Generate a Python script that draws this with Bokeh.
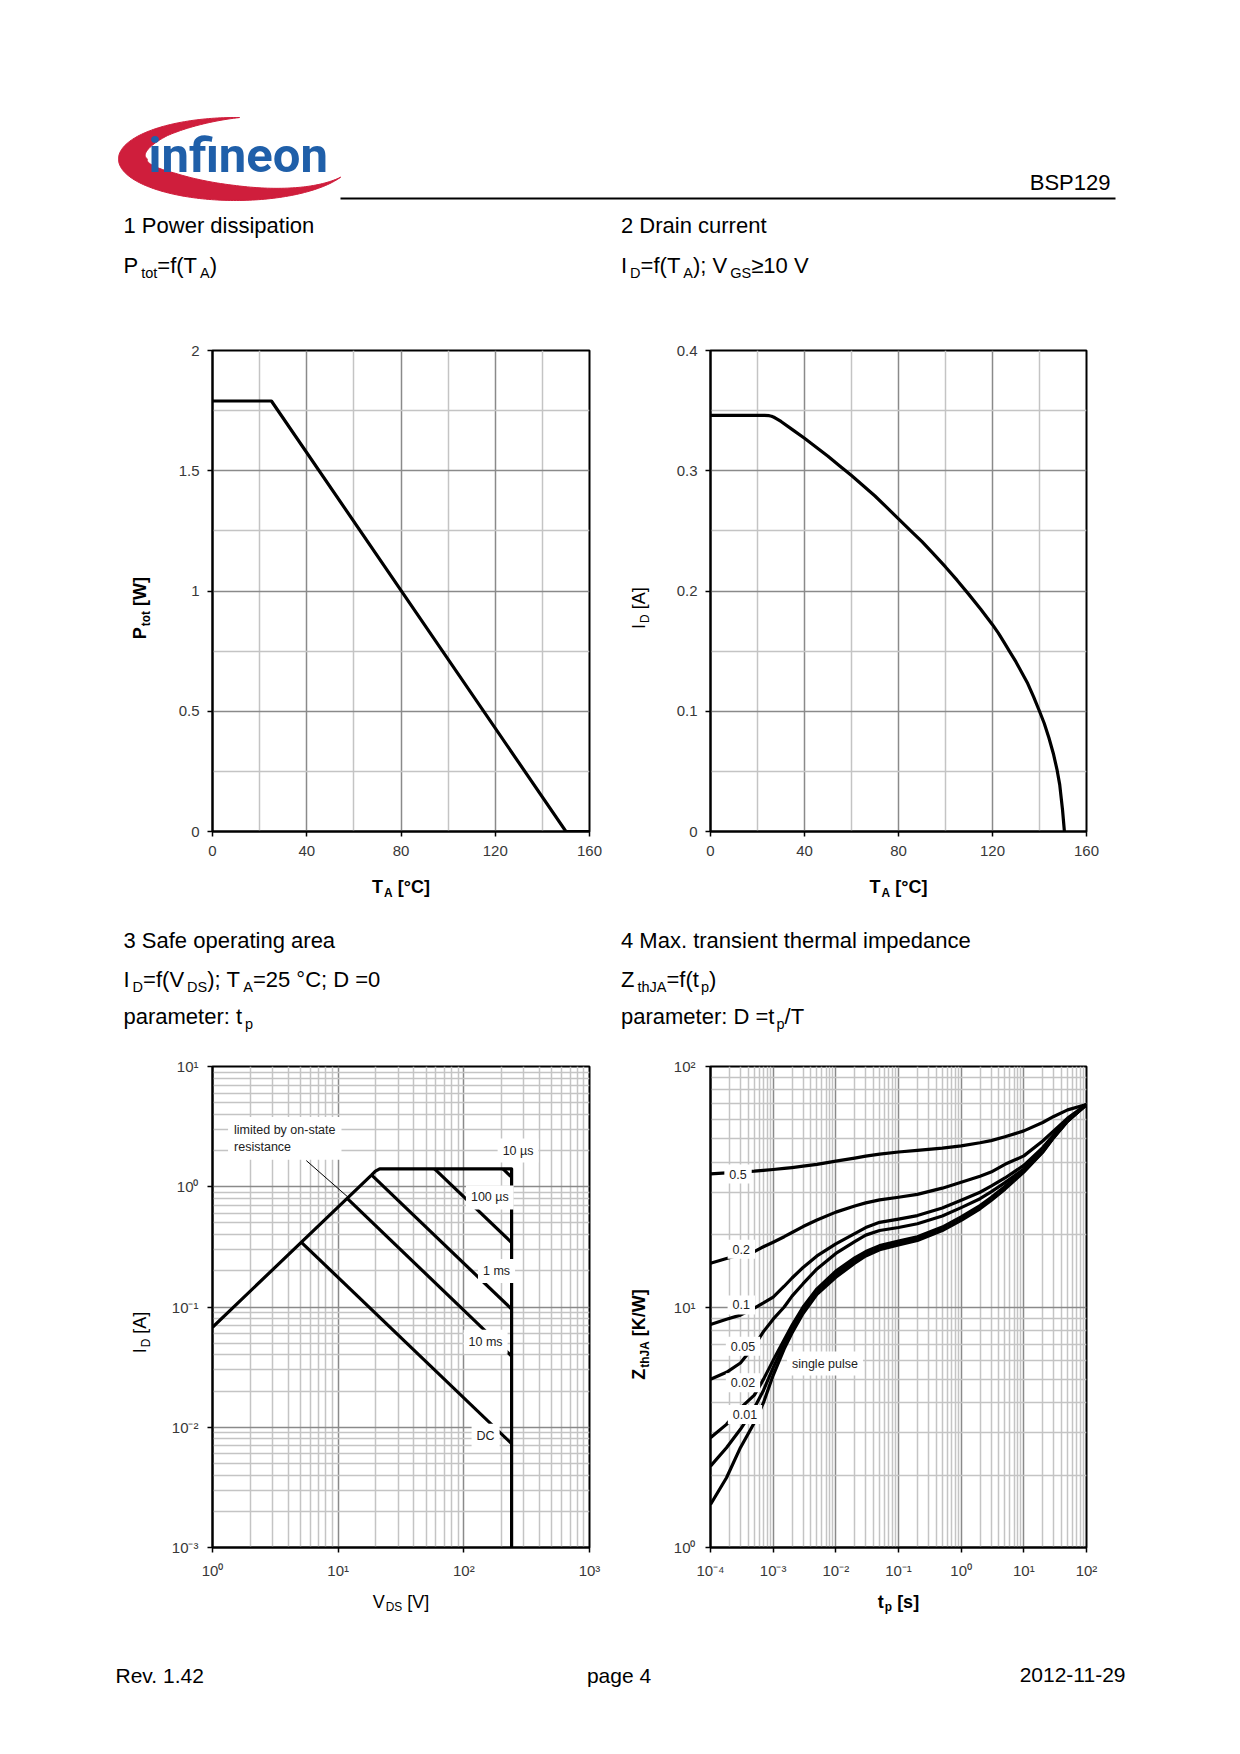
import math
import numpy as np
from bokeh.plotting import figure
from bokeh.models import Range1d, Label, FixedTicker, CustomJSTickFormatter
from bokeh.layouts import column, row
from bokeh.embed import file_html
from bokeh.resources import INLINE

FONT = "Liberation Sans"
LOGO_FONT = "Roboto"
DARK = "#8a8a8a"
LIGHT = "#c4c4c4"
TICKCOL = "#383838"
BASE_CORR = 0.355   # Label 'alphabetic' baseline correction (fraction of font size)

# ------------------------------------------------------------------ data
# 1 Power dissipation
pd_temp = [0, 25, 150, 160]
pd_ptot = [1.79, 1.79, 0.0, 0.0]
pd_xticks = [0, 40, 80, 120, 160]
pd_yticks = [0, 0.5, 1, 1.5, 2]

# 2 Drain current
dc_temp = [0, 23, 25, 26, 27, 28, 30, 35, 40, 45, 50, 55, 60, 65, 70, 75, 80, 85, 90, 95,
           100, 105, 110, 115, 120, 122.5, 125, 127.5, 130, 132.5, 135, 137.5, 140,
           142, 144, 146, 147.5, 148.6, 149.8, 150.6]
dc_id = [0.346, 0.346, 0.3458, 0.3453, 0.3445, 0.3434, 0.341, 0.334, 0.327, 0.3195,
         0.312, 0.304, 0.296, 0.2875, 0.279, 0.2695, 0.260, 0.2505, 0.241, 0.2307,
         0.220, 0.2088, 0.197, 0.1848, 0.172, 0.165, 0.157, 0.149, 0.141, 0.132,
         0.123, 0.112, 0.100, 0.090, 0.078, 0.064, 0.051, 0.039, 0.018, 0.0]
dc_xticks = [0, 40, 80, 120, 160]
dc_yticks = [0, 0.1, 0.2, 0.3, 0.4]

# 3 Safe operating area
soa_limit_v = [1, 18.4, 19.8, 21.4, 240, 240]
soa_limit_i = [0.0678, 1.25, 1.35, 1.41, 1.41, 0.001]
soa_10us_v = [205, 240]
soa_10us_i = [1.41, 1.2]
soa_100us_v = [58.5, 240]
soa_100us_i = [1.41, 0.343]
soa_1ms_v = [18.5, 240]
soa_1ms_i = [1.25, 0.096]
soa_10ms_v = [11.8, 240]
soa_10ms_i = [0.80, 0.039]
soa_dc_v = [5.1, 240]
soa_dc_i = [0.345, 0.0073]
soa_leader_v = [5.58, 12.0]
soa_leader_i = [1.65, 0.818]
soa_labels = ["10 µs", "100 µs", "1 ms", "10 ms", "DC"]
soa_label_v = [270, 161, 182, 149, 149]
soa_label_i = [2.0, 0.815, 0.199, 0.0514, 0.0085]
soa_xticks = [1, 10, 100, 1000]
soa_yticks = [0.001, 0.01, 0.1, 1, 10]

# 4 Max. transient thermal impedance
zth_t = [1e-4, 1.8e-4, 3e-4, 5e-4, 7e-4, 1e-3, 1.5e-3, 2e-3, 3e-3, 5e-3, 1e-2,
         2e-2, 3e-2, 5e-2, 1e-1, 2e-1, 5e-1, 1, 2, 3, 5, 10, 20, 30, 50, 100]
zth_d05 = [35.8, 36.1, 36.4, 36.7, 37.0, 37.3, 37.7, 38.0, 38.5, 39.2, 40.4, 41.6,
           42.4, 43.2, 44.1, 44.8, 45.8, 46.8, 48.2, 49.2, 51.0, 54.0, 58.5, 62.0, 66.0, 69.5]
zth_d02 = [15.2, 15.9, 16.5, 17.0, 17.8, 18.6, 19.6, 20.4, 21.6, 23.0, 24.8, 26.3,
           27.1, 27.9, 28.6, 29.4, 31.2, 33.0, 35.0, 36.4, 39.2, 42.5, 49.0, 54.0, 61.0, 69.5]
zth_d01 = [8.45, 8.9, 9.25, 9.9, 10.4, 11.0, 12.2, 13.2, 14.6, 16.3, 18.3, 20.2,
           21.4, 22.5, 23.2, 24.0, 25.8, 27.8, 30.0, 31.8, 34.4, 38.8, 46.0, 52.0, 60.0, 69.5]
zth_d005 = [5.0, 5.35, 5.85, 6.9, 7.9, 8.9, 10.0, 11.1, 12.5, 14.4, 16.7, 18.7,
            19.9, 20.8, 21.4, 22.2, 23.9, 25.9, 28.2, 30.1, 32.9, 37.5, 45.0, 51.5, 60.0, 69.5]
zth_d002 = [2.86, 3.25, 3.8, 4.3, 5.0, 6.0, 7.3, 8.4, 10.0, 11.9, 14.1, 16.0,
            17.0, 18.0, 18.8, 19.6, 21.5, 23.7, 26.4, 28.5, 31.7, 37.0, 44.5, 51.0, 59.5, 69.5]
zth_d001 = [2.18, 2.6, 3.1, 3.8, 4.5, 5.6, 7.0, 8.1, 9.7, 11.6, 13.7, 15.6,
            16.7, 17.7, 18.5, 19.3, 21.2, 23.3, 26.0, 28.1, 31.3, 36.7, 44.2, 50.8, 59.3, 69.5]
zth_single = [1.51, 1.95, 2.6, 3.3, 4.0, 5.2, 6.7, 7.8, 9.4, 11.3, 13.3, 15.2,
              16.3, 17.3, 18.1, 18.9, 20.8, 22.9, 25.6, 27.7, 30.9, 36.4, 44.0, 50.6, 59.2, 69.5]
zth_labels = ["0.5", "0.2", "0.1", "0.05", "0.02", "0.01", "single pulse"]
zth_label_t = [2.75e-4, 3.1e-4, 3.1e-4, 3.3e-4, 3.3e-4, 3.55e-4, 6.7e-3]
zth_label_z = [35.7, 17.4, 10.2, 6.87, 4.84, 3.57, 5.82]
zth_xticks = [1e-4, 1e-3, 1e-2, 1e-1, 1, 10, 100]
zth_yticks = [1, 10, 100]

# ------------------------------------------------------------------ text metrics (Arial/Helvetica)
HR = {' ': 278, '!': 278, '(': 333, ')': 333, ',': 278, '-': 333, '.': 278, '/': 278,
      ':': 278, ';': 278, '=': 584, '≥': 549, '°': 400, 'µ': 556, '[': 278, ']': 278,
      'A': 667, 'B': 667, 'C': 722, 'D': 722, 'E': 667, 'F': 611, 'G': 778, 'H': 722,
      'I': 278, 'J': 500, 'K': 667, 'L': 556, 'M': 833, 'N': 722, 'O': 778, 'P': 667,
      'Q': 778, 'R': 722, 'S': 667, 'T': 611, 'U': 722, 'V': 667, 'W': 944, 'X': 667,
      'Y': 667, 'Z': 611, 'a': 556, 'b': 556, 'c': 500, 'd': 556, 'e': 556, 'f': 278,
      'g': 556, 'h': 556, 'i': 222, 'j': 222, 'k': 500, 'l': 222, 'm': 833, 'n': 556,
      'o': 556, 'p': 556, 'q': 556, 'r': 333, 's': 500, 't': 278, 'u': 556, 'v': 500,
      'w': 722, 'x': 500, 'y': 500, 'z': 500}
for _d in "0123456789":
    HR[_d] = 556
HB = dict(HR)
HB.update({'[': 333, ']': 333, 'A': 722, 'J': 556, 'K': 722, 'b': 611, 'c': 556, 'd': 611,
           'f': 333, 'g': 611, 'h': 611, 'i': 278, 'j': 278, 'k': 556, 'l': 278, 'n': 611,
           'o': 611, 'p': 611, 'q': 611, 'r': 389, 's': 556, 't': 333, 'u': 611, 'v': 556,
           'w': 778, 'x': 556, 'y': 556, ':': 333, ';': 333})


def tw(s, size, bold=False):
    tab = HB if bold else HR
    return sum(tab.get(c, 556) for c in s) * size / 1000.0


def rich(p, x, y, segs, size, bold=False, align="left", vertical=False,
         color="black", font=FONT):
    parts = []
    total = 0.0
    for txt, kind in segs:
        if kind == "g":
            parts.append((None, kind, 0, float(txt)))
            total += float(txt)
            continue
        s = size if kind == "n" else size * 0.66
        w = tw(txt, s, bold)
        parts.append((txt, kind, s, w))
        total += w
    pos = {"left": 0.0, "center": -total / 2.0, "right": -total}[align]
    for txt, kind, s, w in parts:
        if txt is None:
            pos += w
            continue
        lead = len(txt) - len(txt.lstrip(" "))
        shift = tw(" " * lead, s, bold)
        t = txt.strip(" ")
        off = 0.0 if kind == "n" else (0.2 * size if kind == "b" else -0.4 * size)
        off -= BASE_CORR * s
        if vertical:
            X, Y, ang = x + off, y - (pos + shift), math.pi / 2
        else:
            X, Y, ang = x + pos + shift, y + off, 0.0
        p.add_layout(Label(x=X, y=Y, text=t, angle=ang, text_font=font,
                           text_font_size="%.1fpx" % s,
                           text_font_style="bold" if bold else "normal",
                           text_color=color, text_align="left",
                           text_baseline="alphabetic"))
        pos += w


def text_fig(x0, x1, y0, y1):
    f = figure(x_range=Range1d(x0, x1), y_range=Range1d(y1, y0),
               frame_width=x1 - x0, frame_height=y1 - y0, min_border=0,
               x_axis_location=None, y_axis_location=None,
               toolbar_location=None, output_backend="svg")
    f.outline_line_color = None
    f.grid.visible = False
    f.background_fill_color = "white"
    f.border_fill_color = "white"
    return f


LIN_FMT = "return String(parseFloat(tick.toFixed(3)));"
LOG_FMT = r"""
const sup = {"-":"\u207b","0":"\u2070","1":"\u00b9","2":"\u00b2","3":"\u00b3",
             "4":"\u2074","5":"\u2075","6":"\u2076","7":"\u2077","8":"\u2078","9":"\u2079"};
const e = Math.round(Math.log10(tick));
return "10" + String(e).split("").map(c => sup[c]).join("");
"""

FRAME_H = 481


def make_chart(x0, x1, y0, y1, fx0, fy0, fw, xr, yr, xtype="linear", ytype="linear"):
    bl, bt = fx0 - x0, fy0 - y0
    p = figure(x_range=xr, y_range=yr, x_axis_type=xtype, y_axis_type=ytype,
               frame_width=fw, frame_height=FRAME_H,
               min_border_left=bl, min_border_top=bt,
               min_border_right=(x1 - x0) - bl - fw,
               min_border_bottom=(y1 - y0) - bt - FRAME_H,
               toolbar_location=None, output_backend="svg")
    p.outline_line_color = "black"
    p.outline_line_width = 2
    p.background_fill_color = "white"
    p.border_fill_color = "white"
    for ax in (p.xaxis[0], p.yaxis[0]):
        ax.axis_line_color = "black"
        ax.axis_line_width = 2
        ax.major_tick_line_color = "black"
        ax.major_tick_line_width = 1.5
        ax.major_tick_out = 5
        ax.major_tick_in = 0
        ax.minor_tick_line_color = None
        ax.major_label_text_font = FONT
        ax.major_label_text_color = TICKCOL
    return p


def style_grid(p, xmaj, xmin, ymaj, ymin):
    p.xgrid.ticker = FixedTicker(ticks=xmaj, minor_ticks=xmin)
    p.ygrid.ticker = FixedTicker(ticks=ymaj, minor_ticks=ymin)
    for g in (p.xgrid[0], p.ygrid[0]):
        g.grid_line_color = DARK
        g.grid_line_width = 1.5
        g.minor_grid_line_color = LIGHT
        g.minor_grid_line_width = 1.5


def tag(p, x, y, text, align="center", baseline="middle", pad=4):
    p.add_layout(Label(x=x, y=y, text=text, text_font=FONT, text_font_size="12.5px",
                       text_color="#222222", text_align=align, text_baseline=baseline,
                       background_fill_color="white", padding=pad))


# ------------------------------------------------------------------ page strips
A = text_fig(0, 1232, 0, 335)
L1 = text_fig(0, 166, 335, 870)
L2 = text_fig(615, 664, 335, 870)
B = text_fig(0, 1232, 870, 1040)
L3 = text_fig(0, 166, 1040, 1585)
L4 = text_fig(615, 664, 1040, 1585)
C = text_fig(0, 1232, 1585, 1720)

# ------------------------------------------------------------------ chart 1
f1 = make_chart(166, 615, 335, 870, 212, 350, 377, Range1d(0, 160), Range1d(0, 2))
f1.xaxis.ticker = FixedTicker(ticks=pd_xticks)
f1.yaxis.ticker = FixedTicker(ticks=pd_yticks)
for ax in (f1.xaxis[0], f1.yaxis[0]):
    ax.formatter = CustomJSTickFormatter(code=LIN_FMT)
    ax.major_label_text_font_size = "15px"
f1.xaxis.major_label_standoff = 9
f1.yaxis.major_label_standoff = 8
style_grid(f1, [40, 80, 120], [20, 60, 100, 140], [0.5, 1, 1.5], [0.25, 0.75, 1.25, 1.75])
f1.line(pd_temp, pd_ptot, line_width=3.2, color="black", line_join="round")

# ------------------------------------------------------------------ chart 2
f2 = make_chart(664, 1232, 335, 870, 710, 350, 376, Range1d(0, 160), Range1d(0, 0.4))
f2.xaxis.ticker = FixedTicker(ticks=dc_xticks)
f2.yaxis.ticker = FixedTicker(ticks=dc_yticks)
for ax in (f2.xaxis[0], f2.yaxis[0]):
    ax.formatter = CustomJSTickFormatter(code=LIN_FMT)
    ax.major_label_text_font_size = "15px"
f2.xaxis.major_label_standoff = 9
f2.yaxis.major_label_standoff = 8
style_grid(f2, [40, 80, 120], [20, 60, 100, 140], [0.1, 0.2, 0.3], [0.05, 0.15, 0.25, 0.35])
f2.line(dc_temp, dc_id, line_width=3.2, color="black", line_join="round")

# ------------------------------------------------------------------ chart 3
f3 = make_chart(166, 615, 1040, 1585, 212, 1066, 377, Range1d(1, 1000),
                Range1d(0.001, 10), "log", "log")
f3.xaxis.ticker = FixedTicker(ticks=soa_xticks)
f3.yaxis.ticker = FixedTicker(ticks=soa_yticks)
for ax in (f3.xaxis[0], f3.yaxis[0]):
    ax.formatter = CustomJSTickFormatter(code=LOG_FMT)
    ax.major_label_text_font_size = "15px"
f3.xaxis.major_label_standoff = 9
f3.yaxis.major_label_standoff = 9
x3min = [m * d for d in [1, 10, 100] for m in range(2, 10)]
y3min = [m * d for d in [0.001, 0.01, 0.1, 1] for m in range(2, 10)]
style_grid(f3, soa_xticks, x3min, soa_yticks, y3min)
for vv, ii in [(soa_limit_v, soa_limit_i), (soa_10us_v, soa_10us_i), (soa_100us_v, soa_100us_i),
               (soa_1ms_v, soa_1ms_i), (soa_10ms_v, soa_10ms_i), (soa_dc_v, soa_dc_i)]:
    f3.line(vv, ii, line_width=3.2, color="black", line_join="round")
f3.line(soa_leader_v, soa_leader_i, line_width=1, color="black")
for lab, vx, iy in zip(soa_labels, soa_label_v, soa_label_i):
    tag(f3, vx, iy, lab, pad=5)
tag(f3, 1.33, 3.8, "limited by on-state\nresistance", align="left", baseline="top", pad=6)

# ------------------------------------------------------------------ chart 4
f4 = make_chart(664, 1232, 1040, 1585, 710, 1066, 376, Range1d(1e-4, 100),
                Range1d(1, 100), "log", "log")
f4.xaxis.ticker = FixedTicker(ticks=zth_xticks)
f4.yaxis.ticker = FixedTicker(ticks=zth_yticks)
for ax in (f4.xaxis[0], f4.yaxis[0]):
    ax.formatter = CustomJSTickFormatter(code=LOG_FMT)
    ax.major_label_text_font_size = "15px"
f4.xaxis.major_label_standoff = 9
f4.yaxis.major_label_standoff = 10
x4min = [m * d for d in [1e-4, 1e-3, 1e-2, 1e-1, 1, 10] for m in range(2, 10)]
y4min = [m * d for d in [1, 10] for m in range(2, 10)]
style_grid(f4, zth_xticks, x4min, zth_yticks, y4min)
for zz in [zth_d05, zth_d02, zth_d01, zth_d005, zth_d002, zth_d001, zth_single]:
    f4.line(zth_t, zz, line_width=3.2, color="black", line_join="round")
for lab, tx, zy in zip(zth_labels, zth_label_t, zth_label_z):
    tag(f4, tx, zy, lab, pad=5)

# ------------------------------------------------------------------ header strip (A)
tdeg = np.linspace(88, 334, 160)
wth = np.interp(tdeg, [88, 130, 180, 230, 270, 300, 334], [0, 11, 29, 23, 15, 8, 0])
tr = np.radians(tdeg)
cx, cy, ea, eb = 235.0, 158.5, 117.0, 41.5
ox_ = cx + ea * np.cos(tr)
oy_ = cy - eb * np.sin(tr)
ix_ = cx + (ea - wth) * np.cos(tr)
iy_ = cy - (eb - wth) * np.sin(tr)
A.patch(np.concatenate([ox_, ix_[::-1]]), np.concatenate([oy_, iy_[::-1]]),
        fill_color="#cf1e3c", line_color="#cf1e3c", line_width=1)
A.add_layout(Label(x=148, y=172 - BASE_CORR * 49, text="infineon", text_font=LOGO_FONT,
                   text_font_size="49px", text_font_style="bold", text_color="#1f5fa9",
                   text_baseline="alphabetic"))
A.segment(x0=[340], y0=[198], x1=[1115], y1=[198], line_width=2, color="black")
A.add_layout(Label(x=1110, y=190 - BASE_CORR * 22, text="BSP129", text_font=FONT,
                   text_font_size="22px", text_color="black", text_align="right",
                   text_baseline="alphabetic"))
rich(A, 123, 232.6, [("1 Power dissipation", "n")], 22)
rich(A, 123, 272.8, [("P", "n"), (3, "g"), ("tot", "b"), ("=f(T", "n"), (3, "g"),
                     ("A", "b"), (")", "n")], 22)
rich(A, 620.5, 232.6, [("2 Drain current", "n")], 22)
rich(A, 620.5, 272.8, [("I", "n"), (3, "g"), ("D", "b"), ("=f(T", "n"), (3, "g"),
                       ("A", "b"), ("); V", "n"), (3, "g"), ("GS", "b"), ("≥10 V", "n")], 22)

# ------------------------------------------------------------------ y-axis label strips
rich(L1, 146.3, 592.6, [("P", "n"), (1, "g"), ("tot", "b"), (" [W]", "n")], 18,
     bold=True, align="center", vertical=True)
rich(L2, 644.8, 592.6, [("I", "n"), (1, "g"), ("D", "b"), (" [A]", "n")], 18,
     align="center", vertical=True)
rich(L3, 146.3, 1306, [("I", "n"), (1, "g"), ("D", "b"), (" [A]", "n")], 18,
     align="center", vertical=True)
rich(L4, 644.8, 1308, [("Z", "n"), (1, "g"), ("thJA", "b"), (" [K/W]", "n")], 18,
     bold=True, align="center", vertical=True)

# ------------------------------------------------------------------ middle strip (B)
rich(B, 400.5, 893, [("T", "n"), (1, "g"), ("A", "b"), (" [°C]", "n")], 18,
     bold=True, align="center")
rich(B, 898, 893, [("T", "n"), (1, "g"), ("A", "b"), (" [°C]", "n")], 18,
     bold=True, align="center")
rich(B, 123, 948, [("3 Safe operating area", "n")], 22)
rich(B, 123, 987, [("I", "n"), (3, "g"), ("D", "b"), ("=f(V", "n"), (3, "g"), ("DS", "b"),
                   ("); T", "n"), (3, "g"), ("A", "b"), ("=25 °C; D =0", "n")], 22)
rich(B, 123, 1024, [("parameter: t", "n"), (3, "g"), ("p", "b")], 22)
rich(B, 620.5, 948, [("4 Max. transient thermal impedance", "n")], 22)
rich(B, 620.5, 987, [("Z", "n"), (3, "g"), ("thJA", "b"), ("=f(t", "n"), (2, "g"),
                     ("p", "b"), (")", "n")], 22)
rich(B, 620.5, 1024, [("parameter: D =t", "n"), (2, "g"), ("p", "b"), ("/T", "n")], 22)

# ------------------------------------------------------------------ bottom strip (C)
rich(C, 400.5, 1607.5, [("V", "n"), (1, "g"), ("DS", "b"), (" [V]", "n")], 18, align="center")
rich(C, 898, 1607.5, [("t", "n"), (1, "g"), ("p", "b"), (" [s]", "n")], 18,
     bold=True, align="center")
for txt, xx, al in [("Rev. 1.42", 115, "left"), ("page 4", 618.5, "center"),
                    ("2012-11-29", 1125, "right")]:
    C.add_layout(Label(x=xx, y=1682 - BASE_CORR * 21, text=txt, text_font=FONT,
                       text_font_size="21px", text_color="black", text_align=al,
                       text_baseline="alphabetic"))

page = column(A, row(L1, f1, L2, f2), B, row(L3, f3, L4, f4), C)
open("out.html", "w").write(file_html(page, INLINE))
